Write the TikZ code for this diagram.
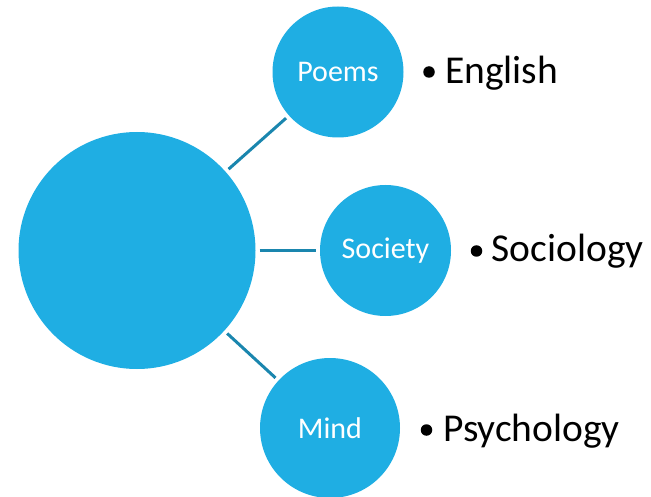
\documentclass[tikz,border=0pt]{standalone}
\usepackage{fontspec}
\setmainfont{Carlito}
\definecolor{circblue}{HTML}{1FAEE3}
\definecolor{lineblue}{HTML}{1A86AE}
\begin{document}
\begin{tikzpicture}[x=1pt,y=-1pt,
  bubble/.style={circle,fill=circblue,draw=none,inner sep=0pt,outer sep=0pt,text=white,
    font=\fontsize{30}{33}\selectfont},
  link/.style={draw=lineblue,line width=3pt,shorten <=4pt,shorten >=4pt},
  label/.style={anchor=base west,inner sep=0pt,font=\fontsize{39.5}{44}\selectfont,text=black},
  dot/.style={circle,fill=black,inner sep=0pt,minimum size=11.5pt}]
\useasboundingbox (0,0) rectangle (651,497);
\node[bubble,minimum size=237pt] (big) at (137,250.5) {};
\node[bubble,minimum size=131pt] (poems) at (338,72) {Poems};
\node[bubble,minimum size=131pt] (society) at (385.5,250.5) {Society};
\node[bubble,minimum size=140pt] (mind) at (330,428) {Mind};
\draw[link] (big) -- (poems);
\draw[link] (big) -- (society);
\draw[link] (big) -- (mind);
\node[dot] (b1) at (429,72) {};
\node[label] (english) at (445,84) {English};
\node[dot] (b2) at (476.5,251) {};
\node[label] (sociology) at (491.5,262) {Sociology};
\node[dot] (b3) at (426.5,430) {};
\node[label] (psychology) at (443,441) {Psychology};
\end{tikzpicture}
\end{document}
